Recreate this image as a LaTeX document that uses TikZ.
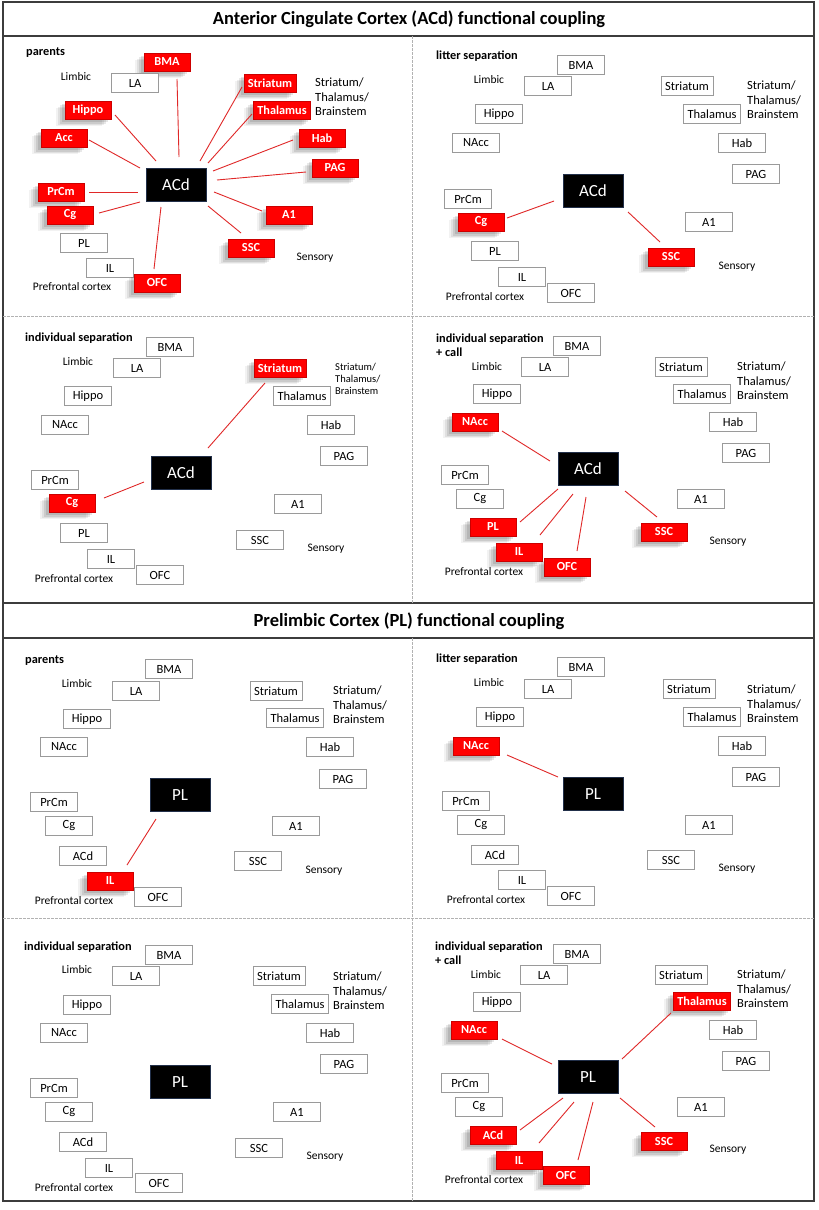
\documentclass[tikz,border=0pt]{standalone}
\usepackage{fontspec}
\setmainfont{Carlito}
\usetikzlibrary{calc,shadows}
\definecolor{boxgray}{HTML}{9A9A9A}
\definecolor{lnkred}{HTML}{E02828}
\definecolor{framegray}{HTML}{3C3C3C}
\definecolor{navy}{HTML}{22304A}
\tikzset{
 wbox/.style={draw=boxgray, fill=white, line width=0.7pt, minimum width=47pt, minimum height=19pt, inner xsep=4pt, inner ysep=0pt, font=\fontsize{12.5}{14}\selectfont},
 rbox/.style={draw=red!80!black, fill=red, line width=0.5pt, text=white, minimum width=46pt, minimum height=18.5pt, inner xsep=4pt, inner ysep=0pt, font=\bfseries\fontsize{12.3}{14}\selectfont,
   drop shadow={shadow xshift=-9pt, shadow yshift=-7pt, opacity=0.05, fill=black},
   drop shadow={shadow xshift=-7pt, shadow yshift=-6pt, opacity=0.07, fill=black},
   drop shadow={shadow xshift=-5pt, shadow yshift=-4.5pt, opacity=0.09, fill=black},
   drop shadow={shadow xshift=-3pt, shadow yshift=-3pt, opacity=0.1, fill=black}},
 cbox/.style={fill=black, draw=navy, line width=0.7pt, text=white, minimum width=60pt, minimum height=33pt, inner sep=0pt, font=\fontsize{17}{19}\selectfont},
 lnk/.style={draw=lnkred, line width=0.9pt},
 grp/.style={font=\fontsize{11.5}{13}\selectfont, inner sep=0pt},
 stb/.style={font=\fontsize{12.5}{14.5}\selectfont, align=left, anchor=west, inner sep=0pt},
 stbs/.style={font=\fontsize{10.5}{12}\selectfont, align=left, anchor=west, inner sep=0pt},
 ptl/.style={font=\bfseries\fontsize{12.3}{14.5}\selectfont, align=left, anchor=west, inner sep=0pt},
 frame/.style={draw=framegray, line width=1.3pt},
 sep/.style={draw=gray!60, line width=0.6pt, dash pattern=on 3pt off 1pt},
 ttl/.style={font=\bfseries\fontsize{18.5}{22}\selectfont, inner sep=0pt}
}
\begin{document}
\begin{tikzpicture}[x=1pt,y=-1pt]
\useasboundingbox (0,0) rectangle (819,1210);
\fill[white] (0,0) rectangle (819,1210);
% frames
\draw[frame] (3,2) rectangle (814,603);
\draw[frame] (3,36) -- (814,36);
\draw[frame] (3,603) rectangle (814,1201);
\draw[frame] (3,638) -- (814,638);
\draw[sep] (412,36) -- (412,603);
\draw[sep] (3,316) -- (814,316);
\draw[sep] (412,638) -- (412,1201);
\draw[sep] (3,918) -- (814,918);
\node[ttl] (t1) at (409,19) {Anterior Cingulate Cortex (ACd) functional coupling};
\node[ttl] (t2) at (409,621) {Prelimbic Cortex (PL) functional coupling};

% ===== Panel 1: ACd parents =====
\node[ptl] (p1t) at (26,53) {parents};
\node[grp] (p1lim) at (76,77) {Limbic};
\node[stb] (p1stb) at (315,97) {Striatum/\\Thalamus/\\Brainstem};
\node[grp] (p1sen) at (315,258) {Sensory};
\node[grp] (p1pfc) at (72,287) {Prefrontal cortex};
\node[rbox] (p1bma) at (167,62) {BMA};
\node[wbox] (p1la) at (135,83) {LA};
\node[rbox] (p1str) at (270,83) {Striatum};
\node[rbox] (p1thal) at (282,110) {Thalamus};
\node[rbox] (p1hip) at (88,110) {Hippo};
\node[rbox] (p1acc) at (64,138) {Acc};
\node[rbox] (p1hab) at (322,138) {Hab};
\node[rbox] (p1pag) at (335,168) {PAG};
\node[cbox] (p1c) at (176,185) {ACd};
\node[rbox] (p1prcm) at (61,192) {PrCm};
\node[rbox] (p1cg) at (70,215) {Cg};
\node[rbox] (p1a1) at (289,215) {A1};
\node[wbox] (p1pl) at (84,243) {PL};
\node[rbox] (p1ssc) at (251,248) {SSC};
\node[wbox] (p1il) at (110,268) {IL};
\node[rbox] (p1ofc) at (157,283) {OFC};
\draw[lnk] ($(p1bma)+(10,17)$) -- ($(p1c)+(3,-28)$);
\draw[lnk] ($(p1hip)+(27,5)$) -- ($(p1c)+(-20,-24)$);
\draw[lnk] ($(p1acc)+(25,2)$) -- ($(p1c)+(-36,-17)$);
\draw[lnk] ($(p1prcm)+(28,0)$) -- ($(p1c)+(-38,7)$);
\draw[lnk] ($(p1cg)+(29,-2)$) -- ($(p1c)+(-36,17)$);
\draw[lnk] ($(p1ofc)+(-3,-14)$) -- ($(p1c)+(-15,22)$);
\draw[lnk] ($(p1ssc)+(-10,-15)$) -- ($(p1c)+(32,21)$);
\draw[lnk] ($(p1a1)+(-27,-4)$) -- ($(p1c)+(38,7)$);
\draw[lnk] ($(p1pag)+(-29,4)$) -- ($(p1c)+(41,-5)$);
\draw[lnk] ($(p1hab)+(-29,2)$) -- ($(p1c)+(37,-14)$);
\draw[lnk] ($(p1thal)+(-30,4)$) -- ($(p1c)+(32,-22)$);
\draw[lnk] ($(p1str)+(-28,4)$) -- ($(p1c)+(24,-24)$);

% ===== Panel 2: ACd litter separation =====
\node[ptl] (p2t) at (436,56) {litter separation};
\node[grp] (p2lim) at (489,80) {Limbic};
\node[stb] (p2stb) at (747,100) {Striatum/\\Thalamus/\\Brainstem};
\node[grp] (p2sen) at (737,267) {Sensory};
\node[grp] (p2pfc) at (485,297) {Prefrontal cortex};
\node[wbox] (p2bma) at (581,65) {BMA};
\node[wbox] (p2la) at (548,86) {LA};
\node[wbox] (p2str) at (687,86) {Striatum};
\node[wbox] (p2hip) at (499,114) {Hippo};
\node[wbox] (p2thal) at (712,114) {Thalamus};
\node[wbox] (p2nacc) at (476,143) {NAcc};
\node[wbox] (p2hab) at (742,143) {Hab};
\node[wbox] (p2pag) at (756,174) {PAG};
\node[cbox] (p2c) at (593,191) {ACd};
\node[wbox] (p2prcm) at (468,199) {PrCm};
\node[rbox] (p2cg) at (481,222) {Cg};
\node[wbox] (p2a1) at (709,222) {A1};
\node[wbox] (p2pl) at (495,251) {PL};
\node[rbox] (p2ssc) at (671,257) {SSC};
\node[wbox] (p2il) at (522,277) {IL};
\node[wbox] (p2ofc) at (571,293) {OFC};
\draw[lnk] ($(p2cg)+(26,-4)$) -- ($(p2c)+(-39,10)$);
\draw[lnk] ($(p2ssc)+(-11,-15)$) -- ($(p2c)+(35,21)$);

% ===== Panel 3: ACd individual separation =====
\node[ptl] (p3t) at (25,338) {individual separation};
\node[grp] (p3lim) at (78,362) {Limbic};
\node[stbs] (p3stb) at (335,379) {Striatum/\\Thalamus/\\Brainstem};
\node[grp] (p3sen) at (326,549) {Sensory};
\node[grp] (p3pfc) at (74,579) {Prefrontal cortex};
\node[wbox] (p3bma) at (170,347) {BMA};
\node[wbox] (p3la) at (137,368) {LA};
\node[rbox] (p3str) at (280,368) {Striatum};
\node[wbox] (p3hip) at (88,396) {Hippo};
\node[wbox] (p3thal) at (302,396) {Thalamus};
\node[wbox] (p3nacc) at (65,425) {NAcc};
\node[wbox] (p3hab) at (331,425) {Hab};
\node[wbox] (p3pag) at (344,456) {PAG};
\node[cbox] (p3c) at (181,473) {ACd};
\node[wbox] (p3prcm) at (55,480) {PrCm};
\node[rbox] (p3cg) at (72,503) {Cg};
\node[wbox] (p3a1) at (298,504) {A1};
\node[wbox] (p3pl) at (84,533) {PL};
\node[wbox] (p3ssc) at (260,540) {SSC};
\node[wbox] (p3il) at (111,559) {IL};
\node[wbox] (p3ofc) at (160,575) {OFC};
\draw[lnk] ($(p3str)+(-15,15)$) -- ($(p3c)+(27,-25)$);
\draw[lnk] ($(p3cg)+(32,-5)$) -- ($(p3c)+(-37,9)$);

% ===== Panel 4: ACd individual separation + call =====
\node[ptl] (p4t) at (436,345) {individual separation\\+ call};
\node[grp] (p4lim) at (487,367) {Limbic};
\node[stb] (p4stb) at (737,381) {Striatum/\\Thalamus/\\Brainstem};
\node[grp] (p4sen) at (728,542) {Sensory};
\node[grp] (p4pfc) at (484,572) {Prefrontal cortex};
\node[wbox] (p4bma) at (577,346) {BMA};
\node[wbox] (p4la) at (545,367) {LA};
\node[wbox] (p4str) at (681,367) {Striatum};
\node[wbox] (p4hip) at (497,394) {Hippo};
\node[wbox] (p4thal) at (702,394) {Thalamus};
\node[rbox] (p4nacc) at (475,422) {NAcc};
\node[wbox] (p4hab) at (733,422) {Hab};
\node[wbox] (p4pag) at (746,453) {PAG};
\node[cbox] (p4c) at (588,469) {ACd};
\node[wbox] (p4prcm) at (465,475) {PrCm};
\node[wbox] (p4cg) at (480,499) {Cg};
\node[wbox] (p4a1) at (701,499) {A1};
\node[rbox] (p4pl) at (493,527) {PL};
\node[rbox] (p4ssc) at (664,532) {SSC};
\node[rbox] (p4il) at (519,552) {IL};
\node[rbox] (p4ofc) at (567,567) {OFC};
\draw[lnk] ($(p4nacc)+(27,9)$) -- ($(p4c)+(-38,-8)$);
\draw[lnk] ($(p4pl)+(27,-5)$) -- ($(p4c)+(-30,20)$);
\draw[lnk] ($(p4il)+(21,-17)$) -- ($(p4c)+(-15,25)$);
\draw[lnk] ($(p4ofc)+(10,-16)$) -- ($(p4c)+(-2,28)$);
\draw[lnk] ($(p4ssc)+(-7,-15)$) -- ($(p4c)+(37,22)$);

% ===== Panel 5: PL parents =====
\node[ptl] (p5t) at (25,661) {parents};
\node[grp] (p5lim) at (77,684) {Limbic};
\node[stb] (p5stb) at (333,705) {Striatum/\\Thalamus/\\Brainstem};
\node[grp] (p5sen) at (324,871) {Sensory};
\node[grp] (p5pfc) at (74,901) {Prefrontal cortex};
\node[wbox] (p5bma) at (169,669) {BMA};
\node[wbox] (p5la) at (136,691) {LA};
\node[wbox] (p5str) at (276,691) {Striatum};
\node[wbox] (p5hip) at (87,719) {Hippo};
\node[wbox] (p5thal) at (295,718) {Thalamus};
\node[wbox] (p5nacc) at (64,747) {NAcc};
\node[wbox] (p5hab) at (330,747) {Hab};
\node[wbox] (p5pag) at (343,779) {PAG};
\node[cbox] (p5c) at (180,795) {PL};
\node[wbox] (p5prcm) at (54,802) {PrCm};
\node[wbox] (p5cg) at (69,826) {Cg};
\node[wbox] (p5a1) at (296,826) {A1};
\node[wbox] (p5acd) at (83,856) {ACd};
\node[wbox] (p5ssc) at (258,861) {SSC};
\node[rbox] (p5il) at (110,881) {IL};
\node[wbox] (p5ofc) at (158,897) {OFC};
\draw[lnk] ($(p5il)+(17,-16)$) -- ($(p5c)+(-24,24)$);

% ===== Panel 6: PL litter separation =====
\node[ptl] (p6t) at (436,659) {litter separation};
\node[grp] (p6lim) at (489,683) {Limbic};
\node[stb] (p6stb) at (747,704) {Striatum/\\Thalamus/\\Brainstem};
\node[grp] (p6sen) at (737,869) {Sensory};
\node[grp] (p6pfc) at (486,900) {Prefrontal cortex};
\node[wbox] (p6bma) at (581,667) {BMA};
\node[wbox] (p6la) at (548,689) {LA};
\node[wbox] (p6str) at (689,689) {Striatum};
\node[wbox] (p6hip) at (500,717) {Hippo};
\node[wbox] (p6thal) at (712,717) {Thalamus};
\node[rbox] (p6nacc) at (476,746) {NAcc};
\node[wbox] (p6hab) at (742,746) {Hab};
\node[wbox] (p6pag) at (756,777) {PAG};
\node[cbox] (p6c) at (593,794) {PL};
\node[wbox] (p6prcm) at (466,801) {PrCm};
\node[wbox] (p6cg) at (481,825) {Cg};
\node[wbox] (p6a1) at (709,825) {A1};
\node[wbox] (p6acd) at (495,855) {ACd};
\node[wbox] (p6ssc) at (671,860) {SSC};
\node[wbox] (p6il) at (522,880) {IL};
\node[wbox] (p6ofc) at (571,896) {OFC};
\draw[lnk] ($(p6nacc)+(31,9)$) -- ($(p6c)+(-35,-17)$);

% ===== Panel 7: PL individual separation =====
\node[ptl] (p7t) at (24,947) {individual separation};
\node[grp] (p7lim) at (77,970) {Limbic};
\node[stb] (p7stb) at (333,991) {Striatum/\\Thalamus/\\Brainstem};
\node[grp] (p7sen) at (325,1157) {Sensory};
\node[grp] (p7pfc) at (74,1188) {Prefrontal cortex};
\node[wbox] (p7bma) at (169,955) {BMA};
\node[wbox] (p7la) at (136,976) {LA};
\node[wbox] (p7str) at (279,976) {Striatum};
\node[wbox] (p7hip) at (87,1005) {Hippo};
\node[wbox] (p7thal) at (300,1004) {Thalamus};
\node[wbox] (p7nacc) at (64,1033) {NAcc};
\node[wbox] (p7hab) at (330,1033) {Hab};
\node[wbox] (p7pag) at (344,1064) {PAG};
\node[cbox] (p7c) at (180,1082) {PL};
\node[wbox] (p7prcm) at (54,1088) {PrCm};
\node[wbox] (p7cg) at (69,1112) {Cg};
\node[wbox] (p7a1) at (297,1112) {A1};
\node[wbox] (p7acd) at (83,1142) {ACd};
\node[wbox] (p7ssc) at (259,1148) {SSC};
\node[wbox] (p7il) at (109,1168) {IL};
\node[wbox] (p7ofc) at (159,1183) {OFC};

% ===== Panel 8: PL individual separation + call =====
\node[ptl] (p8t) at (435,953) {individual separation\\+ call};
\node[grp] (p8lim) at (486,975) {Limbic};
\node[stb] (p8stb) at (737,989) {Striatum/\\Thalamus/\\Brainstem};
\node[grp] (p8sen) at (728,1150) {Sensory};
\node[grp] (p8pfc) at (484,1180) {Prefrontal cortex};
\node[wbox] (p8bma) at (577,954) {BMA};
\node[wbox] (p8la) at (544,975) {LA};
\node[wbox] (p8str) at (681,975) {Striatum};
\node[wbox] (p8hip) at (497,1002) {Hippo};
\node[rbox] (p8thal) at (702,1001) {Thalamus};
\node[rbox] (p8nacc) at (474,1030) {NAcc};
\node[wbox] (p8hab) at (733,1030) {Hab};
\node[wbox] (p8pag) at (746,1061) {PAG};
\node[cbox] (p8c) at (588,1077) {PL};
\node[wbox] (p8prcm) at (465,1083) {PrCm};
\node[wbox] (p8cg) at (479,1107) {Cg};
\node[wbox] (p8a1) at (701,1107) {A1};
\node[rbox] (p8acd) at (493,1135) {ACd};
\node[rbox] (p8ssc) at (664,1141) {SSC};
\node[rbox] (p8il) at (519,1160) {IL};
\node[rbox] (p8ofc) at (566,1175) {OFC};
\draw[lnk] ($(p8nacc)+(28,9)$) -- ($(p8c)+(-36,-13)$);
\draw[lnk] ($(p8thal)+(-31,12)$) -- ($(p8c)+(34,-18)$);
\draw[lnk] ($(p8acd)+(27,-5)$) -- ($(p8c)+(-25,21)$);
\draw[lnk] ($(p8il)+(20,-17)$) -- ($(p8c)+(-14,25)$);
\draw[lnk] ($(p8ofc)+(12,-15)$) -- ($(p8c)+(5,25)$);
\draw[lnk] ($(p8ssc)+(-9,-14)$) -- ($(p8c)+(32,21)$);
\end{tikzpicture}
\end{document}
